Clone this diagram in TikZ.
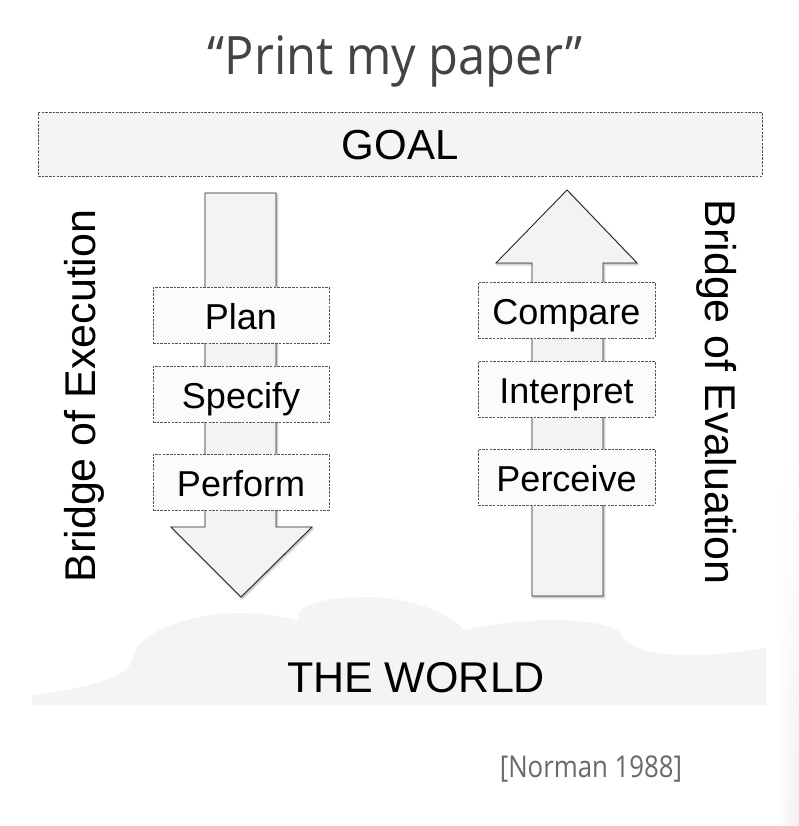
\documentclass[tikz,border=0pt]{standalone}
\usepackage{fontspec}
\setmainfont{Liberation Sans}
\newfontfamily\titlefont[FakeStretch=0.92]{Open Sans}
\newfontfamily\citefont[FakeStretch=0.86]{Open Sans}
\usetikzlibrary{shadows.blur,fadings}
\definecolor{goalfill}{HTML}{F4F4F4}
\definecolor{boxfill}{HTML}{FBFBFB}
\definecolor{arrowfill}{HTML}{F3F3F3}
\definecolor{cloudfill}{HTML}{F4F4F4}
\definecolor{dashcol}{HTML}{555555}
\definecolor{titlecol}{HTML}{444444}
\definecolor{citecol}{HTML}{686870}
\tikzset{
  dashbox/.style={draw=dashcol, fill=boxfill, line width=0.9pt,
    dash pattern=on 2.5pt off 1.2pt, inner sep=0pt,
    font=\fontsize{36}{40}\selectfont, text height=29pt, text depth=0pt},
  bigarrow/.style={draw=black!85, fill=arrowfill, line width=0.9pt, line join=miter,
    blur shadow={shadow xshift=1pt, shadow yshift=-1.5pt, shadow blur steps=4, shadow opacity=35}},
  biglabel/.style={font=\fontsize{43}{48}\selectfont, inner sep=0pt}
}
\begin{document}
\begin{tikzpicture}[x=1pt,y=-1pt]
\useasboundingbox (0,0) rectangle (799,826);
% faint page-edge shade on the right
\shade[left color=white, right color=black!6, path fading=north] (776,440) rectangle (799,826);
% the world cloud
\fill[cloudfill] (32,705) -- (32,695)
  .. controls (80,690) and (133,677) .. (133,657)
  .. controls (140,628) and (200,613) .. (237,613)
  .. controls (265,613) and (288,617) .. (298,621)
  .. controls (294,603) and (330,597) .. (370,597)
  .. controls (410,598) and (450,612) .. (463,630)
  .. controls (490,624) and (525,620) .. (552,620)
  .. controls (590,620) and (622,626) .. (623,638)
  .. controls (632,650) and (660,655) .. (690,655)
  .. controls (720,655) and (745,651) .. (766,648)
  -- (766,705) -- cycle;
% title
\node[font=\titlefont\fontsize{53}{58}\selectfont, text=titlecol, anchor=base, inner sep=0pt] (title) at (395,75) {“Print my paper”};
% goal
\node[dashbox, fill=goalfill, minimum width=724pt, minimum height=64pt,
  font=\fontsize{42}{46}\selectfont, text height=32pt] (goal) at (400,144) {GOAL};
% execution arrow (down)
\path[bigarrow] (205,193) -- (276,193) -- (276,527) -- (312,527) -- (241,597) -- (171,527) -- (205,527) -- cycle;
% evaluation arrow (up)
\path[bigarrow] (567,190) -- (637,263) -- (603,263) -- (603,596) -- (532,596) -- (532,263) -- (496,263) -- cycle;
% stage boxes
\node[dashbox, minimum width=176pt, minimum height=56pt] (plan) at (241,315) {Plan};
\node[dashbox, minimum width=176pt, minimum height=56pt] (specify) at (241,394) {Specify};
\node[dashbox, minimum width=176pt, minimum height=56pt] (perform) at (241,482) {Perform};
\node[dashbox, minimum width=177pt, minimum height=56pt] (compare) at (566.5,310) {Compare};
\node[dashbox, minimum width=177pt, minimum height=56pt] (interpret) at (566.5,389) {Interpret};
\node[dashbox, minimum width=177pt, minimum height=56pt] (perceive) at (566.5,477) {Perceive};
% bridge labels
\node[biglabel, rotate=90, anchor=base] (exec) at (95,396) {Bridge of Execution};
\node[biglabel, rotate=-90, anchor=base] (eval) at (705,392) {Bridge of Evaluation};
% world label
\node[biglabel, anchor=base] (world) at (416,692) {THE WORLD};
% citation
\node[font=\citefont\fontsize{30}{34}\selectfont, text=citecol, anchor=base, inner sep=0pt] (cite) at (591,777) {[Norman 1988]};
\end{tikzpicture}
\end{document}
